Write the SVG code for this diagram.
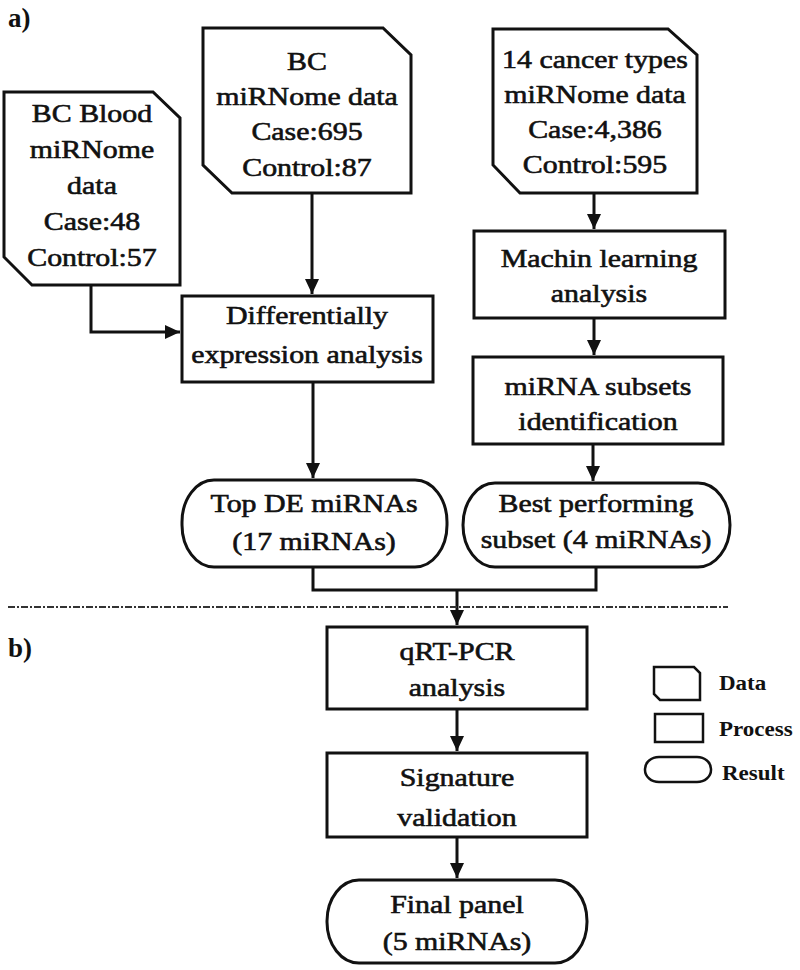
<svg xmlns="http://www.w3.org/2000/svg" width="800" height="970" viewBox="0 0 800 970">
<defs>
<style>
.box{fill:#fff;stroke:#111;stroke-width:3;stroke-linejoin:miter}
.lg{fill:#fff;stroke:#111;stroke-width:2.5}
.t{font-family:"Liberation Serif","Times New Roman",serif;font-size:26px;fill:#111;stroke:#111;stroke-width:0.6;text-anchor:middle}
.lbl{font-family:"Liberation Serif","Times New Roman",serif;font-size:27px;font-weight:bold;fill:#111}
.lt{font-family:"Liberation Serif","Times New Roman",serif;font-size:20px;font-weight:bold;fill:#111}
.c{fill:none;stroke:#111;stroke-width:3}
</style>
<marker id="ah" viewBox="0 0 15 18" markerWidth="15" markerHeight="18" refX="15" refY="7" orient="auto" markerUnits="userSpaceOnUse">
<path d="M0,0 L15,7 L0,14 z" fill="#111"/>
</marker>
</defs>
<rect width="800" height="970" fill="#fff"/>

<text class="lbl" x="8" y="27">a)</text>
<text class="lbl" x="8" y="657">b)</text>

<g id="connectors">
<path class="c" d="M91,285 V332 H180" marker-end="url(#ah)"/>
<path class="c" d="M312,193 V294" marker-end="url(#ah)"/>
<path class="c" d="M594,193 V229" marker-end="url(#ah)"/>
<path class="c" d="M594,318 V355" marker-end="url(#ah)"/>
<path class="c" d="M593,444 V481" marker-end="url(#ah)"/>
<path class="c" d="M313,382 V478" marker-end="url(#ah)"/>
<path class="c" d="M313,567 V590 H596 V567"/>
<path class="c" d="M457,590 V625" marker-end="url(#ah)"/>
<path class="c" d="M457,709 V751" marker-end="url(#ah)"/>
<path class="c" d="M457,837 V878" marker-end="url(#ah)"/>
</g>

<line x1="8" y1="607" x2="728" y2="607" stroke="#333" stroke-width="2" stroke-dasharray="7 2 2 2"/>

<g id="bc-blood">
<path class="box" d="M4,92 H153 L180,118 V285 H32 L4,257 Z"/>
<text class="t" transform="translate(92 122) scale(1.15 1)">BC Blood</text>
<text class="t" transform="translate(92 158) scale(1.15 1)">miRNome</text>
<text class="t" transform="translate(92 194) scale(1.15 1)">data</text>
<text class="t" transform="translate(92 230) scale(1.15 1)">Case:48</text>
<text class="t" transform="translate(92 266) scale(1.15 1)">Control:57</text>
</g>

<g id="bc">
<path class="box" d="M203,28 H383 L411,55 V193 H232 L203,165 Z"/>
<text class="t" transform="translate(307 70) scale(1.15 1)">BC</text>
<text class="t" transform="translate(307 105) scale(1.15 1)">miRNome data</text>
<text class="t" transform="translate(307 140) scale(1.15 1)">Case:695</text>
<text class="t" transform="translate(307 176) scale(1.15 1)">Control:87</text>
</g>

<g id="cancer14">
<path class="box" d="M493,29 H668 L697,55 V193 H520 L493,165 Z"/>
<text class="t" transform="translate(595 68) scale(1.15 1)">14 cancer types</text>
<text class="t" transform="translate(595 103) scale(1.15 1)">miRNome data</text>
<text class="t" transform="translate(595 138) scale(1.15 1)">Case:4,386</text>
<text class="t" transform="translate(595 173) scale(1.15 1)">Control:595</text>
</g>

<g id="diff">
<rect class="box" x="182" y="296" width="251" height="86"/>
<text class="t" transform="translate(307 324) scale(1.15 1)">Differentially</text>
<text class="t" transform="translate(307 363) scale(1.15 1)">expression analysis</text>
</g>

<g id="ml">
<rect class="box" x="474" y="231" width="251" height="87"/>
<text class="t" transform="translate(599 267) scale(1.15 1)">Machin learning</text>
<text class="t" transform="translate(599 302) scale(1.15 1)">analysis</text>
</g>

<g id="subsets">
<rect class="box" x="473" y="357" width="250" height="87"/>
<text class="t" transform="translate(598 395) scale(1.15 1)">miRNA subsets</text>
<text class="t" transform="translate(598 430) scale(1.15 1)">identification</text>
</g>

<g id="topde">
<rect class="box" x="182" y="480" width="265" height="87" rx="32" ry="42"/>
<text class="t" transform="translate(314 512) scale(1.15 1)">Top DE miRNAs</text>
<text class="t" transform="translate(314 550) scale(1.15 1)">(17 miRNAs)</text>
</g>

<g id="best">
<rect class="box" x="463" y="483" width="267" height="84" rx="32" ry="42"/>
<text class="t" transform="translate(596 512) scale(1.15 1)">Best performing</text>
<text class="t" transform="translate(596 548) scale(1.15 1)">subset (4 miRNAs)</text>
</g>

<g id="qrtpcr">
<rect class="box" x="327" y="627" width="260" height="82"/>
<text class="t" transform="translate(457 660) scale(1.15 1)">qRT-PCR</text>
<text class="t" transform="translate(457 696) scale(1.15 1)">analysis</text>
</g>

<g id="signature">
<rect class="box" x="327" y="753" width="260" height="84"/>
<text class="t" transform="translate(457 786) scale(1.15 1)">Signature</text>
<text class="t" transform="translate(457 826) scale(1.15 1)">validation</text>
</g>

<g id="final">
<rect class="box" x="327" y="880" width="260" height="83" rx="32" ry="41"/>
<text class="t" transform="translate(457 913) scale(1.15 1)">Final panel</text>
<text class="t" transform="translate(457 950) scale(1.15 1)">(5 miRNAs)</text>
</g>

<g id="legend">
<path class="lg" d="M654,667 H694 L700,673 V700 H660 L654,694 Z"/>
<rect class="lg" x="655" y="714" width="48" height="28"/>
<rect class="lg" x="645" y="757" width="66" height="25" rx="14" ry="12"/>
<text class="lt" transform="translate(719 690) scale(1.15 1)">Data</text>
<text class="lt" transform="translate(719 736) scale(1.15 1)">Process</text>
<text class="lt" transform="translate(722 780) scale(1.15 1)">Result</text>
</g>
</svg>
